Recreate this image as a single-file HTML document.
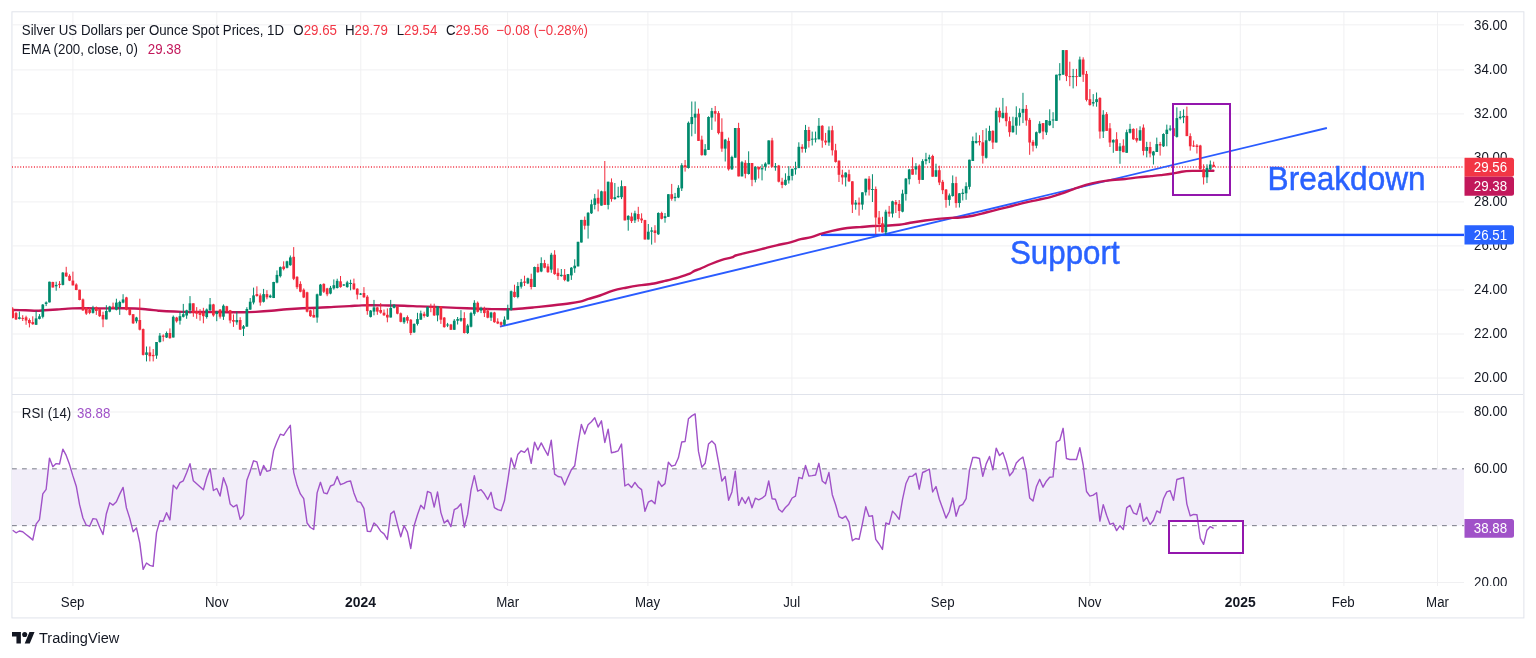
<!DOCTYPE html><html><head><meta charset="utf-8"><title>Silver chart</title><style>
html,body{margin:0;padding:0;background:#fff;}body{width:1536px;height:658px;overflow:hidden;position:relative;}
svg{position:absolute;left:0;top:0;will-change:transform;}
text{font-family:'Liberation Sans', sans-serif;}
</style></head><body>
<svg width="1536" height="658" viewBox="0 0 1536 658">
<defs>
<clipPath id="cm"><rect x="12" y="12" width="1452" height="382"/></clipPath>
<clipPath id="cr"><rect x="12" y="395" width="1452" height="191"/></clipPath>
<clipPath id="c20"><rect x="1464" y="395" width="59" height="191"/></clipPath>
</defs>
<rect x="11.94" y="11.79" width="1511.94" height="606.13" fill="none" stroke="#e0e3eb" stroke-width="1"/>
<rect x="72.40" y="12" width="1" height="574" fill="#f0f0f2"/>
<rect x="216.29" y="12" width="1" height="574" fill="#f0f0f2"/>
<rect x="360.29" y="12" width="1" height="574" fill="#f0f0f2"/>
<rect x="507.07" y="12" width="1" height="574" fill="#f0f0f2"/>
<rect x="647.38" y="12" width="1" height="574" fill="#f0f0f2"/>
<rect x="791.38" y="12" width="1" height="574" fill="#f0f0f2"/>
<rect x="941.62" y="12" width="1" height="574" fill="#f0f0f2"/>
<rect x="1089.38" y="12" width="1" height="574" fill="#f0f0f2"/>
<rect x="1239.77" y="12" width="1" height="574" fill="#f0f0f2"/>
<rect x="1343.38" y="12" width="1" height="574" fill="#f0f0f2"/>
<rect x="1436.98" y="12" width="1" height="574" fill="#f0f0f2"/>
<rect x="12" y="24.35" width="1452" height="1" fill="#f0f0f2"/>
<rect x="12" y="69.38" width="1452" height="1" fill="#f0f0f2"/>
<rect x="12" y="113.38" width="1452" height="1" fill="#f0f0f2"/>
<rect x="12" y="157.40" width="1452" height="1" fill="#f0f0f2"/>
<rect x="12" y="201.38" width="1452" height="1" fill="#f0f0f2"/>
<rect x="12" y="245.40" width="1452" height="1" fill="#f0f0f2"/>
<rect x="12" y="289.47" width="1452" height="1" fill="#f0f0f2"/>
<rect x="12" y="333.50" width="1452" height="1" fill="#f0f0f2"/>
<rect x="12" y="377.53" width="1452" height="1" fill="#f0f0f2"/>
<rect x="12" y="411.50" width="1452" height="1" fill="#f0f0f2"/>
<rect x="12" y="581.99" width="1452" height="1" fill="#f0f0f2"/>
<rect x="12" y="394" width="1511" height="1" fill="#e0e3eb"/>
<rect x="12" y="468.83" width="1452" height="56.83" fill="#f2eef9"/>
<rect x="1169" y="521" width="74" height="32" fill="#ffffff"/>
<line x1="12" y1="468.83" x2="1464" y2="468.83" stroke="#787b86" stroke-width="1" stroke-dasharray="4.8 5.2"/>
<line x1="12" y1="525.66" x2="1464" y2="525.66" stroke="#787b86" stroke-width="1" stroke-dasharray="4.8 5.2"/>
<polyline clip-path="url(#cr)" points="12.68,530.30 16.03,532.80 19.38,531.00 22.72,531.80 26.07,534.50 29.41,537.10 32.76,540.00 36.10,524.20 39.45,519.70 42.79,493.80 46.14,489.30 49.48,458.10 52.83,466.70 56.17,463.60 59.52,464.00 62.86,449.20 66.21,455.40 69.55,464.60 72.90,475.90 76.25,486.20 79.59,504.70 82.94,518.00 86.28,525.20 89.63,526.20 92.97,518.60 96.32,519.10 99.66,527.30 103.01,534.50 106.35,513.70 109.70,502.70 113.04,505.10 116.39,501.70 119.73,494.10 123.08,487.40 126.42,507.90 129.77,518.40 133.12,531.70 136.46,527.90 139.81,543.10 143.15,569.30 146.50,563.00 149.84,565.30 153.19,566.30 156.53,532.60 159.88,520.70 163.22,521.20 166.57,512.70 169.91,519.90 173.26,485.10 176.60,488.90 179.95,482.70 183.29,480.80 186.64,472.80 189.99,463.70 193.33,480.80 196.68,483.80 200.02,486.80 203.37,489.80 206.71,477.80 210.06,468.70 213.40,490.50 216.75,488.50 220.09,496.00 223.44,477.80 226.78,486.50 230.13,503.90 233.47,506.90 236.82,504.90 240.16,519.30 243.51,514.80 246.86,480.20 250.20,471.30 253.55,460.80 256.89,461.80 260.24,475.30 263.58,465.40 266.93,471.30 270.27,470.30 273.62,450.60 276.96,441.70 280.31,434.20 283.65,435.30 287.00,430.20 290.34,425.30 293.69,472.30 297.04,485.30 300.38,493.90 303.73,498.70 307.07,523.00 310.42,527.50 313.76,529.40 317.11,492.90 320.45,482.30 323.80,492.90 327.14,493.80 330.49,486.00 333.83,484.70 337.18,476.50 340.52,484.70 343.87,483.40 347.21,481.60 350.56,481.00 353.91,492.90 357.25,501.60 360.60,502.40 363.94,508.40 367.29,531.20 370.63,531.60 373.98,523.00 377.32,526.10 380.67,531.20 384.01,533.90 387.36,539.40 390.70,513.90 394.05,511.10 397.39,524.30 400.74,536.70 404.08,525.70 407.43,532.10 410.78,548.50 414.12,525.70 417.47,514.80 420.81,505.30 424.16,508.90 427.50,491.40 430.85,492.90 434.19,507.10 437.54,492.00 440.88,512.60 444.23,523.00 447.57,519.90 450.92,526.60 454.26,509.70 457.61,507.80 460.95,503.80 464.30,527.20 467.65,514.40 470.99,490.20 474.34,475.60 477.68,491.10 481.03,489.60 484.37,493.80 487.72,499.50 491.06,492.30 494.41,507.70 497.75,509.70 501.10,510.70 504.44,500.80 507.79,480.10 511.13,457.90 514.48,467.80 517.82,454.40 521.17,450.80 524.52,452.40 527.86,448.10 531.21,463.30 534.55,442.10 537.90,450.00 541.24,442.90 544.59,449.40 547.93,455.40 551.28,440.20 554.62,474.10 557.97,476.50 561.31,477.10 564.66,485.00 568.00,477.10 571.35,469.80 574.70,465.80 578.04,443.50 581.39,424.40 584.73,434.00 588.08,424.80 591.42,421.80 594.77,417.80 598.11,427.10 601.46,420.80 604.80,442.50 608.15,429.10 611.49,452.80 614.84,452.00 618.18,450.80 621.53,444.10 624.87,486.00 628.22,484.00 631.57,487.60 634.91,482.40 638.26,487.00 641.60,489.60 644.95,511.30 648.29,502.20 651.64,500.40 654.98,503.80 658.33,481.10 661.67,486.40 665.02,483.60 668.36,462.30 671.71,466.20 675.05,465.20 678.40,457.80 681.74,442.00 685.09,441.50 688.44,418.80 691.78,415.90 695.13,413.90 698.47,451.40 701.82,467.20 705.16,463.30 708.51,444.10 711.85,441.00 715.20,444.50 718.54,462.30 721.89,481.10 725.23,476.50 728.58,500.20 731.92,491.90 735.27,471.20 738.61,505.40 741.96,497.50 745.31,503.40 748.65,496.90 752.00,507.70 755.34,498.20 758.69,499.80 762.03,498.20 765.38,495.50 768.72,481.00 772.07,498.70 775.41,499.30 778.76,509.30 782.10,512.00 785.45,507.50 788.79,504.20 792.14,498.00 795.48,496.20 798.83,477.40 802.18,478.70 805.52,465.50 808.87,476.10 812.21,475.60 815.56,475.00 818.90,463.30 822.25,481.00 825.59,483.80 828.94,472.50 832.28,494.70 835.63,504.70 838.97,516.60 842.32,518.40 845.66,516.20 849.01,522.10 852.35,540.70 855.70,538.50 859.05,539.40 862.39,523.90 865.74,506.80 869.08,516.40 872.43,515.70 875.77,539.40 879.12,544.00 882.46,549.40 885.81,523.00 889.15,524.30 892.50,511.10 895.84,514.80 899.19,519.30 902.53,499.30 905.88,483.80 909.22,476.50 912.57,476.10 915.92,473.20 919.26,489.20 922.61,472.50 925.95,471.00 929.30,469.20 932.64,492.00 935.99,486.50 939.33,499.30 942.68,508.40 946.02,518.10 949.37,511.50 952.71,498.00 956.06,516.20 959.40,506.20 962.75,504.30 966.10,498.60 969.44,470.40 972.79,457.50 976.13,457.50 979.48,458.50 982.82,476.30 986.17,463.90 989.51,456.50 992.86,469.80 996.20,448.10 999.55,455.60 1002.89,452.60 1006.24,462.50 1009.58,475.70 1012.93,471.80 1016.27,463.10 1019.62,459.50 1022.97,457.10 1026.31,471.80 1029.66,498.00 1033.00,501.00 1036.35,486.80 1039.69,479.30 1043.04,487.20 1046.38,481.20 1049.73,477.30 1053.07,476.90 1056.42,442.10 1059.76,440.20 1063.11,428.30 1066.45,458.50 1069.80,459.50 1073.14,459.50 1076.49,459.50 1079.84,447.70 1083.18,465.00 1086.53,491.50 1089.87,496.10 1093.22,495.10 1096.56,492.70 1099.91,521.10 1103.25,504.60 1106.60,515.20 1109.94,524.30 1113.29,523.10 1116.63,530.60 1119.98,525.70 1123.32,529.60 1126.67,507.90 1130.01,505.30 1133.36,512.80 1136.71,514.40 1140.05,503.40 1143.40,521.30 1146.74,517.30 1150.09,524.50 1153.43,520.20 1156.78,510.90 1160.12,512.90 1163.47,498.80 1166.81,491.90 1170.16,490.70 1173.50,500.30 1176.85,479.50 1180.19,478.50 1183.54,477.50 1186.88,504.10 1190.23,515.90 1193.58,514.40 1196.92,514.70 1200.27,538.30 1203.61,544.30 1206.96,530.20 1210.30,526.60 1213.65,528.40" fill="none" stroke="#a052c8" stroke-width="1.4" stroke-linejoin="round"/>
<rect x="1169" y="521" width="74" height="32" fill="none" stroke="#9316ad" stroke-width="2"/>
<g clip-path="url(#cm)">
<line x1="12" y1="167" x2="1464" y2="167" stroke="#f22a3c" stroke-width="1.5" stroke-dasharray="1 1.74"/>
<line x1="499.9" y1="326.7" x2="1326.9" y2="128.0" stroke="#2a5cff" stroke-width="1.8"/>
<rect x="821" y="233.7" width="643" height="2.4" fill="#1c50ff"/>
<path d="M12.00,310.00 C14.27,310.05 21.50,310.18 25.60,310.30 C29.70,310.42 33.47,310.70 36.60,310.70 C39.73,310.70 41.02,310.50 44.40,310.30 C47.78,310.10 52.22,309.82 56.90,309.50 C61.58,309.18 67.30,308.60 72.50,308.40 C77.70,308.20 82.88,308.30 88.10,308.30 C93.32,308.30 98.58,308.40 103.80,308.40 C109.02,308.40 114.20,308.28 119.40,308.30 C124.60,308.32 130.32,308.30 135.00,308.50 C139.68,308.70 143.60,309.13 147.50,309.50 C151.40,309.87 155.27,310.40 158.40,310.70 C161.53,311.00 162.38,311.10 166.30,311.30 C170.22,311.50 176.70,311.78 181.90,311.90 C187.10,312.02 192.30,311.98 197.50,312.00 C202.70,312.02 207.88,311.97 213.10,312.00 C218.32,312.03 223.65,312.15 228.80,312.20 C233.95,312.25 239.53,312.35 244.00,312.30 C248.47,312.25 251.05,312.15 255.60,311.90 C260.15,311.65 266.08,311.25 271.30,310.80 C276.52,310.35 281.70,309.63 286.90,309.20 C292.10,308.77 297.30,308.43 302.50,308.20 C307.70,307.97 312.88,308.02 318.10,307.80 C323.32,307.58 328.58,307.18 333.80,306.90 C339.02,306.62 344.72,306.35 349.40,306.10 C354.08,305.85 358.00,305.53 361.90,305.40 C365.80,305.27 368.38,305.28 372.80,305.30 C377.22,305.32 383.18,305.43 388.40,305.50 C393.62,305.57 398.88,305.55 404.10,305.70 C409.32,305.85 414.50,306.20 419.70,306.40 C424.90,306.60 430.10,306.70 435.30,306.90 C440.50,307.10 445.68,307.37 450.90,307.60 C456.12,307.83 461.75,308.10 466.60,308.30 C471.45,308.50 475.77,308.67 480.00,308.80 C484.23,308.93 487.90,309.02 492.00,309.10 C496.10,309.18 500.67,309.32 504.60,309.30 C508.53,309.28 510.73,309.32 515.60,309.00 C520.47,308.68 527.73,307.98 533.80,307.40 C539.87,306.82 545.92,306.18 552.00,305.50 C558.08,304.82 565.63,303.95 570.30,303.30 C574.97,302.65 576.97,302.33 580.00,301.60 C583.03,300.87 585.17,299.92 588.50,298.90 C591.83,297.88 595.92,296.88 600.00,295.50 C604.08,294.12 608.67,291.90 613.00,290.60 C617.33,289.30 621.65,288.57 626.00,287.70 C630.35,286.83 634.75,286.05 639.10,285.40 C643.45,284.75 647.77,284.55 652.10,283.80 C656.43,283.05 660.77,281.93 665.10,280.90 C669.43,279.87 673.98,278.80 678.10,277.60 C682.22,276.40 687.08,274.83 689.80,273.70 C692.52,272.57 692.70,271.60 694.40,270.80 C696.10,270.00 697.25,270.03 700.00,268.90 C702.75,267.77 707.25,265.50 710.90,264.00 C714.55,262.50 718.43,261.00 721.90,259.90 C725.37,258.80 729.42,258.13 731.70,257.40 C733.98,256.67 733.58,256.18 735.60,255.50 C737.62,254.82 740.62,254.07 743.80,253.30 C746.98,252.53 751.07,251.77 754.70,250.90 C758.33,250.03 761.95,249.03 765.60,248.10 C769.25,247.17 772.47,246.27 776.60,245.30 C780.73,244.33 786.37,243.32 790.40,242.30 C794.43,241.28 797.32,240.07 800.80,239.20 C804.28,238.33 807.82,238.02 811.30,237.10 C814.78,236.18 818.23,234.73 821.70,233.70 C825.17,232.67 828.63,231.72 832.10,230.90 C835.57,230.08 839.03,229.37 842.50,228.80 C845.97,228.23 849.98,227.78 852.90,227.50 C855.82,227.22 856.65,227.35 860.00,227.10 C863.35,226.85 868.67,226.23 873.00,226.00 C877.33,225.77 881.65,225.92 886.00,225.70 C890.35,225.48 895.83,225.02 899.10,224.70 C902.37,224.38 903.43,224.17 905.60,223.80 C907.77,223.43 908.85,223.05 912.10,222.50 C915.35,221.95 920.77,221.10 925.10,220.50 C929.43,219.90 933.77,219.33 938.10,218.90 C942.43,218.47 947.45,218.12 951.10,217.90 C954.75,217.68 956.35,217.97 960.00,217.60 C963.65,217.23 968.67,216.55 973.00,215.70 C977.33,214.85 981.65,213.58 986.00,212.50 C990.35,211.42 994.75,210.28 999.10,209.20 C1003.45,208.12 1007.77,207.08 1012.10,206.00 C1016.43,204.92 1020.77,203.73 1025.10,202.70 C1029.43,201.67 1033.77,200.78 1038.10,199.80 C1042.43,198.82 1047.45,197.77 1051.10,196.80 C1054.75,195.83 1056.35,195.23 1060.00,194.00 C1063.65,192.77 1068.67,190.92 1073.00,189.40 C1077.33,187.88 1081.65,186.15 1086.00,184.90 C1090.35,183.65 1094.75,182.72 1099.10,181.90 C1103.45,181.08 1107.77,180.48 1112.10,180.00 C1116.43,179.52 1120.77,179.43 1125.10,179.00 C1129.43,178.57 1133.77,177.88 1138.10,177.40 C1142.43,176.92 1147.32,176.48 1151.10,176.10 C1154.88,175.72 1157.43,175.48 1160.80,175.10 C1164.17,174.72 1167.82,174.37 1171.30,173.80 C1174.78,173.23 1178.23,172.18 1181.70,171.70 C1185.17,171.22 1188.63,171.03 1192.10,170.90 C1195.57,170.77 1198.95,170.93 1202.50,170.90 C1206.05,170.87 1211.58,170.73 1213.40,170.70" fill="none" stroke="#c11457" stroke-width="2.4" stroke-linejoin="round" stroke-linecap="round"/>
<rect x="12.18" y="307.20" width="1" height="11.20" fill="#f22a3c"/>
<rect x="11.33" y="308.80" width="2.7" height="9.10" fill="#f22a3c"/>
<rect x="15.53" y="312.00" width="1" height="8.00" fill="#f22a3c"/>
<rect x="14.68" y="313.10" width="2.7" height="6.30" fill="#f22a3c"/>
<rect x="18.88" y="311.50" width="1" height="7.90" fill="#008a6d"/>
<rect x="18.03" y="317.30" width="2.7" height="1.60" fill="#008a6d"/>
<rect x="22.22" y="315.20" width="1" height="5.80" fill="#f22a3c"/>
<rect x="21.37" y="317.90" width="2.7" height="1.00" fill="#f22a3c"/>
<rect x="25.57" y="315.70" width="1" height="9.10" fill="#f22a3c"/>
<rect x="24.72" y="317.30" width="2.7" height="3.20" fill="#f22a3c"/>
<rect x="28.91" y="318.40" width="1" height="9.00" fill="#f22a3c"/>
<rect x="28.06" y="320.00" width="2.7" height="3.20" fill="#f22a3c"/>
<rect x="32.26" y="316.30" width="1" height="8.50" fill="#f22a3c"/>
<rect x="31.41" y="322.10" width="2.7" height="2.10" fill="#f22a3c"/>
<rect x="35.60" y="310.90" width="1" height="13.90" fill="#008a6d"/>
<rect x="34.75" y="318.40" width="2.7" height="6.40" fill="#008a6d"/>
<rect x="38.95" y="314.10" width="1" height="5.30" fill="#008a6d"/>
<rect x="38.10" y="316.30" width="2.7" height="2.60" fill="#008a6d"/>
<rect x="42.29" y="304.00" width="1" height="14.40" fill="#008a6d"/>
<rect x="41.44" y="304.60" width="2.7" height="12.20" fill="#008a6d"/>
<rect x="45.64" y="301.40" width="1" height="4.70" fill="#008a6d"/>
<rect x="44.79" y="302.40" width="2.7" height="1.60" fill="#008a6d"/>
<rect x="48.98" y="281.70" width="1" height="20.70" fill="#008a6d"/>
<rect x="48.13" y="281.70" width="2.7" height="20.70" fill="#008a6d"/>
<rect x="52.33" y="281.70" width="1" height="5.80" fill="#f22a3c"/>
<rect x="51.48" y="282.00" width="2.7" height="5.50" fill="#f22a3c"/>
<rect x="55.67" y="281.70" width="1" height="9.00" fill="#008a6d"/>
<rect x="54.82" y="284.90" width="2.7" height="1.40" fill="#008a6d"/>
<rect x="59.02" y="281.10" width="1" height="7.00" fill="#f22a3c"/>
<rect x="58.17" y="283.80" width="2.7" height="1.10" fill="#f22a3c"/>
<rect x="62.36" y="272.00" width="1" height="13.40" fill="#008a6d"/>
<rect x="61.51" y="272.60" width="2.7" height="12.30" fill="#008a6d"/>
<rect x="65.71" y="266.80" width="1" height="10.10" fill="#f22a3c"/>
<rect x="64.86" y="272.60" width="2.7" height="3.80" fill="#f22a3c"/>
<rect x="69.05" y="274.20" width="1" height="6.90" fill="#f22a3c"/>
<rect x="68.20" y="275.80" width="2.7" height="4.80" fill="#f22a3c"/>
<rect x="72.40" y="271.60" width="1" height="13.80" fill="#f22a3c"/>
<rect x="71.55" y="280.60" width="2.7" height="4.80" fill="#f22a3c"/>
<rect x="75.75" y="283.30" width="1" height="6.90" fill="#f22a3c"/>
<rect x="74.90" y="284.50" width="2.7" height="5.50" fill="#f22a3c"/>
<rect x="79.09" y="289.70" width="1" height="10.60" fill="#f22a3c"/>
<rect x="78.24" y="289.70" width="2.7" height="10.30" fill="#f22a3c"/>
<rect x="82.44" y="298.50" width="1" height="12.40" fill="#f22a3c"/>
<rect x="81.59" y="299.40" width="2.7" height="11.00" fill="#f22a3c"/>
<rect x="85.78" y="307.00" width="1" height="7.90" fill="#f22a3c"/>
<rect x="84.93" y="307.80" width="2.7" height="5.80" fill="#f22a3c"/>
<rect x="89.13" y="307.80" width="1" height="6.40" fill="#f22a3c"/>
<rect x="88.28" y="309.70" width="2.7" height="3.20" fill="#f22a3c"/>
<rect x="92.47" y="305.80" width="1" height="7.80" fill="#008a6d"/>
<rect x="91.62" y="307.80" width="2.7" height="5.10" fill="#008a6d"/>
<rect x="95.82" y="306.50" width="1" height="8.40" fill="#f22a3c"/>
<rect x="94.97" y="307.10" width="2.7" height="3.90" fill="#f22a3c"/>
<rect x="99.16" y="308.40" width="1" height="8.50" fill="#f22a3c"/>
<rect x="98.31" y="309.10" width="2.7" height="7.10" fill="#f22a3c"/>
<rect x="102.51" y="311.70" width="1" height="15.50" fill="#f22a3c"/>
<rect x="101.66" y="314.90" width="2.7" height="4.50" fill="#f22a3c"/>
<rect x="105.85" y="305.20" width="1" height="14.20" fill="#008a6d"/>
<rect x="105.00" y="311.00" width="2.7" height="8.40" fill="#008a6d"/>
<rect x="109.20" y="305.80" width="1" height="6.50" fill="#008a6d"/>
<rect x="108.35" y="306.50" width="2.7" height="5.20" fill="#008a6d"/>
<rect x="112.54" y="302.60" width="1" height="5.80" fill="#f22a3c"/>
<rect x="111.69" y="306.50" width="2.7" height="1.30" fill="#f22a3c"/>
<rect x="115.89" y="298.70" width="1" height="11.70" fill="#008a6d"/>
<rect x="115.04" y="302.60" width="2.7" height="7.10" fill="#008a6d"/>
<rect x="119.23" y="300.70" width="1" height="14.20" fill="#008a6d"/>
<rect x="118.38" y="302.00" width="2.7" height="5.10" fill="#008a6d"/>
<rect x="122.58" y="294.20" width="1" height="9.10" fill="#008a6d"/>
<rect x="121.73" y="299.40" width="2.7" height="3.20" fill="#008a6d"/>
<rect x="125.92" y="296.80" width="1" height="13.60" fill="#f22a3c"/>
<rect x="125.07" y="297.40" width="2.7" height="12.30" fill="#f22a3c"/>
<rect x="129.27" y="308.40" width="1" height="7.10" fill="#f22a3c"/>
<rect x="128.42" y="309.10" width="2.7" height="5.80" fill="#f22a3c"/>
<rect x="132.62" y="314.20" width="1" height="9.80" fill="#f22a3c"/>
<rect x="131.77" y="314.20" width="2.7" height="9.10" fill="#f22a3c"/>
<rect x="135.96" y="316.80" width="1" height="6.50" fill="#008a6d"/>
<rect x="135.11" y="317.50" width="2.7" height="3.80" fill="#008a6d"/>
<rect x="139.31" y="298.70" width="1" height="31.70" fill="#f22a3c"/>
<rect x="138.46" y="320.00" width="2.7" height="9.70" fill="#f22a3c"/>
<rect x="142.65" y="328.50" width="1" height="27.00" fill="#f22a3c"/>
<rect x="141.80" y="329.10" width="2.7" height="25.80" fill="#f22a3c"/>
<rect x="146.00" y="346.50" width="1" height="14.90" fill="#008a6d"/>
<rect x="145.15" y="352.40" width="2.7" height="2.50" fill="#008a6d"/>
<rect x="149.34" y="346.50" width="1" height="14.90" fill="#f22a3c"/>
<rect x="148.49" y="352.40" width="2.7" height="3.80" fill="#f22a3c"/>
<rect x="152.69" y="349.00" width="1" height="12.40" fill="#f22a3c"/>
<rect x="151.84" y="354.90" width="2.7" height="1.30" fill="#f22a3c"/>
<rect x="156.03" y="342.00" width="1" height="16.80" fill="#008a6d"/>
<rect x="155.18" y="342.00" width="2.7" height="13.60" fill="#008a6d"/>
<rect x="159.38" y="333.00" width="1" height="9.70" fill="#008a6d"/>
<rect x="158.53" y="335.60" width="2.7" height="6.40" fill="#008a6d"/>
<rect x="162.72" y="334.30" width="1" height="7.10" fill="#f22a3c"/>
<rect x="161.87" y="335.60" width="2.7" height="1.20" fill="#f22a3c"/>
<rect x="166.07" y="331.50" width="1" height="6.50" fill="#008a6d"/>
<rect x="165.22" y="333.00" width="2.7" height="4.50" fill="#008a6d"/>
<rect x="169.41" y="328.40" width="1" height="10.40" fill="#f22a3c"/>
<rect x="168.56" y="333.00" width="2.7" height="5.10" fill="#f22a3c"/>
<rect x="172.76" y="315.50" width="1" height="22.00" fill="#008a6d"/>
<rect x="171.91" y="316.80" width="2.7" height="20.70" fill="#008a6d"/>
<rect x="176.10" y="316.80" width="1" height="5.80" fill="#f22a3c"/>
<rect x="175.25" y="317.50" width="2.7" height="3.80" fill="#f22a3c"/>
<rect x="179.45" y="311.70" width="1" height="12.90" fill="#008a6d"/>
<rect x="178.60" y="316.20" width="2.7" height="4.50" fill="#008a6d"/>
<rect x="182.79" y="303.90" width="1" height="13.60" fill="#008a6d"/>
<rect x="181.94" y="314.20" width="2.7" height="2.60" fill="#008a6d"/>
<rect x="186.14" y="309.70" width="1" height="9.10" fill="#008a6d"/>
<rect x="185.29" y="310.40" width="2.7" height="5.10" fill="#008a6d"/>
<rect x="189.49" y="296.10" width="1" height="17.50" fill="#008a6d"/>
<rect x="188.64" y="303.30" width="2.7" height="7.10" fill="#008a6d"/>
<rect x="192.83" y="303.30" width="1" height="13.50" fill="#f22a3c"/>
<rect x="191.98" y="303.30" width="2.7" height="9.60" fill="#f22a3c"/>
<rect x="196.18" y="307.10" width="1" height="11.70" fill="#f22a3c"/>
<rect x="195.33" y="311.00" width="2.7" height="2.60" fill="#f22a3c"/>
<rect x="199.52" y="309.10" width="1" height="11.60" fill="#f22a3c"/>
<rect x="198.67" y="311.70" width="2.7" height="3.20" fill="#f22a3c"/>
<rect x="202.87" y="307.80" width="1" height="15.50" fill="#f22a3c"/>
<rect x="202.02" y="313.00" width="2.7" height="3.20" fill="#f22a3c"/>
<rect x="206.21" y="308.50" width="1" height="10.10" fill="#008a6d"/>
<rect x="205.36" y="309.50" width="2.7" height="7.50" fill="#008a6d"/>
<rect x="209.56" y="298.00" width="1" height="12.90" fill="#008a6d"/>
<rect x="208.71" y="304.40" width="2.7" height="5.80" fill="#008a6d"/>
<rect x="212.90" y="303.80" width="1" height="12.90" fill="#f22a3c"/>
<rect x="212.05" y="304.40" width="2.7" height="11.00" fill="#f22a3c"/>
<rect x="216.25" y="310.90" width="1" height="10.30" fill="#008a6d"/>
<rect x="215.40" y="311.50" width="2.7" height="2.60" fill="#008a6d"/>
<rect x="219.59" y="309.00" width="1" height="9.60" fill="#f22a3c"/>
<rect x="218.74" y="309.60" width="2.7" height="7.10" fill="#f22a3c"/>
<rect x="222.94" y="304.40" width="1" height="15.50" fill="#008a6d"/>
<rect x="222.09" y="305.70" width="2.7" height="11.00" fill="#008a6d"/>
<rect x="226.28" y="305.80" width="1" height="6.10" fill="#f22a3c"/>
<rect x="225.43" y="306.20" width="2.7" height="5.20" fill="#f22a3c"/>
<rect x="229.63" y="309.90" width="1" height="13.40" fill="#f22a3c"/>
<rect x="228.78" y="310.20" width="2.7" height="10.30" fill="#f22a3c"/>
<rect x="232.97" y="314.40" width="1" height="12.50" fill="#f22a3c"/>
<rect x="232.12" y="320.00" width="2.7" height="1.70" fill="#f22a3c"/>
<rect x="236.32" y="311.40" width="1" height="13.40" fill="#008a6d"/>
<rect x="235.47" y="320.00" width="2.7" height="2.30" fill="#008a6d"/>
<rect x="239.66" y="317.20" width="1" height="12.70" fill="#f22a3c"/>
<rect x="238.81" y="320.00" width="2.7" height="9.60" fill="#f22a3c"/>
<rect x="243.01" y="325.00" width="1" height="11.00" fill="#008a6d"/>
<rect x="242.16" y="326.30" width="2.7" height="2.40" fill="#008a6d"/>
<rect x="246.36" y="307.20" width="1" height="19.60" fill="#008a6d"/>
<rect x="245.51" y="309.00" width="2.7" height="17.60" fill="#008a6d"/>
<rect x="249.70" y="298.00" width="1" height="11.80" fill="#008a6d"/>
<rect x="248.85" y="301.70" width="2.7" height="7.90" fill="#008a6d"/>
<rect x="253.05" y="287.60" width="1" height="16.80" fill="#008a6d"/>
<rect x="252.20" y="295.40" width="2.7" height="7.10" fill="#008a6d"/>
<rect x="256.39" y="286.30" width="1" height="10.40" fill="#f22a3c"/>
<rect x="255.54" y="294.10" width="2.7" height="1.90" fill="#f22a3c"/>
<rect x="259.74" y="293.40" width="1" height="12.30" fill="#f22a3c"/>
<rect x="258.89" y="295.40" width="2.7" height="7.10" fill="#f22a3c"/>
<rect x="263.08" y="288.90" width="1" height="13.60" fill="#008a6d"/>
<rect x="262.23" y="294.10" width="2.7" height="7.70" fill="#008a6d"/>
<rect x="266.43" y="290.20" width="1" height="9.10" fill="#f22a3c"/>
<rect x="265.58" y="294.10" width="2.7" height="3.20" fill="#f22a3c"/>
<rect x="269.77" y="294.50" width="1" height="3.50" fill="#008a6d"/>
<rect x="268.92" y="295.60" width="2.7" height="1.70" fill="#008a6d"/>
<rect x="273.12" y="281.80" width="1" height="16.30" fill="#008a6d"/>
<rect x="272.27" y="282.00" width="2.7" height="16.00" fill="#008a6d"/>
<rect x="276.46" y="270.40" width="1" height="12.90" fill="#008a6d"/>
<rect x="275.61" y="274.90" width="2.7" height="7.70" fill="#008a6d"/>
<rect x="279.81" y="266.50" width="1" height="11.00" fill="#008a6d"/>
<rect x="278.96" y="267.10" width="2.7" height="9.10" fill="#008a6d"/>
<rect x="283.15" y="261.30" width="1" height="9.10" fill="#f22a3c"/>
<rect x="282.30" y="266.50" width="2.7" height="2.60" fill="#f22a3c"/>
<rect x="286.50" y="260.70" width="1" height="7.70" fill="#008a6d"/>
<rect x="285.65" y="261.30" width="2.7" height="6.50" fill="#008a6d"/>
<rect x="289.84" y="255.50" width="1" height="10.30" fill="#008a6d"/>
<rect x="288.99" y="257.40" width="2.7" height="7.80" fill="#008a6d"/>
<rect x="293.19" y="247.10" width="1" height="33.00" fill="#f22a3c"/>
<rect x="292.34" y="256.80" width="2.7" height="22.00" fill="#f22a3c"/>
<rect x="296.54" y="276.20" width="1" height="12.90" fill="#f22a3c"/>
<rect x="295.69" y="276.80" width="2.7" height="10.40" fill="#f22a3c"/>
<rect x="299.88" y="281.30" width="1" height="11.00" fill="#f22a3c"/>
<rect x="299.03" y="283.90" width="2.7" height="7.80" fill="#f22a3c"/>
<rect x="303.23" y="288.40" width="1" height="9.70" fill="#f22a3c"/>
<rect x="302.38" y="289.70" width="2.7" height="7.80" fill="#f22a3c"/>
<rect x="306.57" y="291.70" width="1" height="20.70" fill="#f22a3c"/>
<rect x="305.72" y="292.30" width="2.7" height="19.40" fill="#f22a3c"/>
<rect x="309.92" y="309.80" width="1" height="7.10" fill="#f22a3c"/>
<rect x="309.07" y="310.40" width="2.7" height="5.80" fill="#f22a3c"/>
<rect x="313.26" y="308.50" width="1" height="9.00" fill="#f22a3c"/>
<rect x="312.41" y="314.90" width="2.7" height="2.60" fill="#f22a3c"/>
<rect x="316.61" y="293.60" width="1" height="29.10" fill="#008a6d"/>
<rect x="315.76" y="294.30" width="2.7" height="23.20" fill="#008a6d"/>
<rect x="319.95" y="283.90" width="1" height="11.70" fill="#008a6d"/>
<rect x="319.10" y="284.60" width="2.7" height="11.00" fill="#008a6d"/>
<rect x="323.30" y="283.30" width="1" height="9.70" fill="#f22a3c"/>
<rect x="322.45" y="283.90" width="2.7" height="7.80" fill="#f22a3c"/>
<rect x="326.64" y="287.80" width="1" height="8.40" fill="#f22a3c"/>
<rect x="325.79" y="288.40" width="2.7" height="5.90" fill="#f22a3c"/>
<rect x="329.99" y="285.90" width="1" height="8.40" fill="#008a6d"/>
<rect x="329.14" y="287.80" width="2.7" height="5.80" fill="#008a6d"/>
<rect x="333.33" y="279.40" width="1" height="10.30" fill="#008a6d"/>
<rect x="332.48" y="285.20" width="2.7" height="3.20" fill="#008a6d"/>
<rect x="336.68" y="278.70" width="1" height="9.80" fill="#008a6d"/>
<rect x="335.83" y="280.80" width="2.7" height="7.20" fill="#008a6d"/>
<rect x="340.02" y="276.00" width="1" height="11.70" fill="#f22a3c"/>
<rect x="339.17" y="281.30" width="2.7" height="5.80" fill="#f22a3c"/>
<rect x="343.37" y="284.00" width="1" height="2.00" fill="#008a6d"/>
<rect x="342.52" y="284.50" width="2.7" height="1.00" fill="#008a6d"/>
<rect x="346.71" y="280.80" width="1" height="6.90" fill="#008a6d"/>
<rect x="345.86" y="282.40" width="2.7" height="4.70" fill="#008a6d"/>
<rect x="350.06" y="279.70" width="1" height="10.60" fill="#008a6d"/>
<rect x="349.21" y="282.90" width="2.7" height="1.10" fill="#008a6d"/>
<rect x="353.41" y="278.60" width="1" height="11.20" fill="#f22a3c"/>
<rect x="352.56" y="283.40" width="2.7" height="5.90" fill="#f22a3c"/>
<rect x="356.75" y="288.20" width="1" height="11.20" fill="#f22a3c"/>
<rect x="355.90" y="288.70" width="2.7" height="5.90" fill="#f22a3c"/>
<rect x="360.10" y="293.00" width="1" height="2.00" fill="#008a6d"/>
<rect x="359.25" y="293.60" width="2.7" height="1.00" fill="#008a6d"/>
<rect x="363.44" y="287.10" width="1" height="10.70" fill="#f22a3c"/>
<rect x="362.59" y="293.00" width="2.7" height="4.30" fill="#f22a3c"/>
<rect x="366.79" y="295.10" width="1" height="19.70" fill="#f22a3c"/>
<rect x="365.94" y="296.70" width="2.7" height="14.40" fill="#f22a3c"/>
<rect x="370.13" y="310.00" width="1" height="7.50" fill="#008a6d"/>
<rect x="369.28" y="310.60" width="2.7" height="6.30" fill="#008a6d"/>
<rect x="373.48" y="299.90" width="1" height="15.40" fill="#008a6d"/>
<rect x="372.63" y="307.40" width="2.7" height="4.20" fill="#008a6d"/>
<rect x="376.82" y="306.80" width="1" height="8.00" fill="#f22a3c"/>
<rect x="375.97" y="307.40" width="2.7" height="4.20" fill="#f22a3c"/>
<rect x="380.17" y="303.10" width="1" height="10.60" fill="#f22a3c"/>
<rect x="379.32" y="310.00" width="2.7" height="2.70" fill="#f22a3c"/>
<rect x="383.51" y="309.50" width="1" height="6.40" fill="#f22a3c"/>
<rect x="382.66" y="312.70" width="2.7" height="2.60" fill="#f22a3c"/>
<rect x="386.86" y="308.40" width="1" height="13.90" fill="#f22a3c"/>
<rect x="386.01" y="314.80" width="2.7" height="2.70" fill="#f22a3c"/>
<rect x="390.20" y="299.90" width="1" height="17.60" fill="#008a6d"/>
<rect x="389.35" y="307.90" width="2.7" height="9.60" fill="#008a6d"/>
<rect x="393.55" y="304.20" width="1" height="4.20" fill="#008a6d"/>
<rect x="392.70" y="304.70" width="2.7" height="3.20" fill="#008a6d"/>
<rect x="396.89" y="306.30" width="1" height="8.00" fill="#f22a3c"/>
<rect x="396.04" y="306.80" width="2.7" height="6.90" fill="#f22a3c"/>
<rect x="400.24" y="312.50" width="1" height="9.80" fill="#f22a3c"/>
<rect x="399.39" y="313.30" width="2.7" height="8.50" fill="#f22a3c"/>
<rect x="403.58" y="317.00" width="1" height="6.90" fill="#008a6d"/>
<rect x="402.73" y="317.60" width="2.7" height="4.70" fill="#008a6d"/>
<rect x="406.93" y="315.40" width="1" height="8.00" fill="#f22a3c"/>
<rect x="406.08" y="317.00" width="2.7" height="3.70" fill="#f22a3c"/>
<rect x="410.28" y="319.10" width="1" height="16.00" fill="#f22a3c"/>
<rect x="409.43" y="319.70" width="2.7" height="13.30" fill="#f22a3c"/>
<rect x="413.62" y="323.40" width="1" height="9.60" fill="#008a6d"/>
<rect x="412.77" y="323.90" width="2.7" height="8.50" fill="#008a6d"/>
<rect x="416.97" y="312.80" width="1" height="12.70" fill="#008a6d"/>
<rect x="416.12" y="319.10" width="2.7" height="4.80" fill="#008a6d"/>
<rect x="420.31" y="310.60" width="1" height="9.10" fill="#008a6d"/>
<rect x="419.46" y="313.30" width="2.7" height="6.40" fill="#008a6d"/>
<rect x="423.66" y="311.70" width="1" height="5.90" fill="#f22a3c"/>
<rect x="422.81" y="313.80" width="2.7" height="2.20" fill="#f22a3c"/>
<rect x="427.00" y="306.40" width="1" height="10.60" fill="#008a6d"/>
<rect x="426.15" y="306.90" width="2.7" height="9.60" fill="#008a6d"/>
<rect x="430.35" y="303.70" width="1" height="8.50" fill="#f22a3c"/>
<rect x="429.50" y="306.90" width="2.7" height="1.10" fill="#f22a3c"/>
<rect x="433.69" y="303.70" width="1" height="12.30" fill="#f22a3c"/>
<rect x="432.84" y="306.90" width="2.7" height="8.50" fill="#f22a3c"/>
<rect x="437.04" y="306.40" width="1" height="14.90" fill="#008a6d"/>
<rect x="436.19" y="306.40" width="2.7" height="9.00" fill="#008a6d"/>
<rect x="440.38" y="306.40" width="1" height="17.50" fill="#f22a3c"/>
<rect x="439.53" y="306.40" width="2.7" height="13.30" fill="#f22a3c"/>
<rect x="443.73" y="317.00" width="1" height="10.70" fill="#f22a3c"/>
<rect x="442.88" y="317.60" width="2.7" height="9.50" fill="#f22a3c"/>
<rect x="447.07" y="322.90" width="1" height="4.20" fill="#008a6d"/>
<rect x="446.22" y="324.50" width="2.7" height="1.00" fill="#008a6d"/>
<rect x="450.42" y="323.90" width="1" height="5.90" fill="#f22a3c"/>
<rect x="449.57" y="324.50" width="2.7" height="5.30" fill="#f22a3c"/>
<rect x="453.76" y="319.10" width="1" height="10.70" fill="#008a6d"/>
<rect x="452.91" y="320.70" width="2.7" height="9.10" fill="#008a6d"/>
<rect x="457.11" y="317.00" width="1" height="7.50" fill="#008a6d"/>
<rect x="456.26" y="319.10" width="2.7" height="1.60" fill="#008a6d"/>
<rect x="460.45" y="310.10" width="1" height="11.70" fill="#008a6d"/>
<rect x="459.60" y="318.10" width="2.7" height="2.60" fill="#008a6d"/>
<rect x="463.80" y="312.20" width="1" height="21.30" fill="#f22a3c"/>
<rect x="462.95" y="318.10" width="2.7" height="14.90" fill="#f22a3c"/>
<rect x="467.15" y="323.90" width="1" height="10.10" fill="#008a6d"/>
<rect x="466.30" y="325.50" width="2.7" height="7.50" fill="#008a6d"/>
<rect x="470.49" y="311.80" width="1" height="15.60" fill="#008a6d"/>
<rect x="469.64" y="313.10" width="2.7" height="13.60" fill="#008a6d"/>
<rect x="473.84" y="300.20" width="1" height="15.50" fill="#008a6d"/>
<rect x="472.99" y="302.80" width="2.7" height="11.00" fill="#008a6d"/>
<rect x="477.18" y="301.50" width="1" height="11.00" fill="#f22a3c"/>
<rect x="476.33" y="302.80" width="2.7" height="9.00" fill="#f22a3c"/>
<rect x="480.53" y="306.70" width="1" height="6.40" fill="#008a6d"/>
<rect x="479.68" y="308.00" width="2.7" height="2.60" fill="#008a6d"/>
<rect x="483.87" y="306.70" width="1" height="10.30" fill="#f22a3c"/>
<rect x="483.02" y="309.30" width="2.7" height="3.80" fill="#f22a3c"/>
<rect x="487.22" y="308.60" width="1" height="9.70" fill="#f22a3c"/>
<rect x="486.37" y="310.60" width="2.7" height="7.10" fill="#f22a3c"/>
<rect x="490.56" y="311.80" width="1" height="9.10" fill="#008a6d"/>
<rect x="489.71" y="312.50" width="2.7" height="5.20" fill="#008a6d"/>
<rect x="493.91" y="311.80" width="1" height="11.00" fill="#f22a3c"/>
<rect x="493.06" y="312.50" width="2.7" height="9.70" fill="#f22a3c"/>
<rect x="497.25" y="318.30" width="1" height="5.80" fill="#f22a3c"/>
<rect x="496.40" y="321.50" width="2.7" height="2.00" fill="#f22a3c"/>
<rect x="500.60" y="321.50" width="1" height="5.20" fill="#f22a3c"/>
<rect x="499.75" y="322.20" width="2.7" height="2.60" fill="#f22a3c"/>
<rect x="503.94" y="316.40" width="1" height="9.00" fill="#008a6d"/>
<rect x="503.09" y="319.60" width="2.7" height="5.20" fill="#008a6d"/>
<rect x="507.29" y="304.70" width="1" height="14.90" fill="#008a6d"/>
<rect x="506.44" y="309.30" width="2.7" height="10.30" fill="#008a6d"/>
<rect x="510.63" y="290.50" width="1" height="20.10" fill="#008a6d"/>
<rect x="509.78" y="291.20" width="2.7" height="18.70" fill="#008a6d"/>
<rect x="513.98" y="284.70" width="1" height="12.90" fill="#f22a3c"/>
<rect x="513.13" y="291.80" width="2.7" height="5.20" fill="#f22a3c"/>
<rect x="517.32" y="282.10" width="1" height="16.20" fill="#008a6d"/>
<rect x="516.47" y="286.00" width="2.7" height="11.00" fill="#008a6d"/>
<rect x="520.67" y="278.90" width="1" height="9.70" fill="#008a6d"/>
<rect x="519.82" y="282.10" width="2.7" height="4.60" fill="#008a6d"/>
<rect x="524.02" y="275.70" width="1" height="10.30" fill="#f22a3c"/>
<rect x="523.17" y="281.50" width="2.7" height="1.30" fill="#f22a3c"/>
<rect x="527.36" y="277.60" width="1" height="6.50" fill="#008a6d"/>
<rect x="526.51" y="278.30" width="2.7" height="5.10" fill="#008a6d"/>
<rect x="530.71" y="273.70" width="1" height="15.70" fill="#f22a3c"/>
<rect x="529.86" y="278.90" width="2.7" height="8.10" fill="#f22a3c"/>
<rect x="534.05" y="266.60" width="1" height="20.40" fill="#008a6d"/>
<rect x="533.20" y="267.00" width="2.7" height="20.00" fill="#008a6d"/>
<rect x="537.40" y="263.80" width="1" height="9.00" fill="#f22a3c"/>
<rect x="536.55" y="267.00" width="2.7" height="5.20" fill="#f22a3c"/>
<rect x="540.74" y="257.30" width="1" height="14.90" fill="#008a6d"/>
<rect x="539.89" y="263.10" width="2.7" height="8.40" fill="#008a6d"/>
<rect x="544.09" y="259.90" width="1" height="8.40" fill="#f22a3c"/>
<rect x="543.24" y="263.10" width="2.7" height="4.60" fill="#f22a3c"/>
<rect x="547.43" y="263.80" width="1" height="9.00" fill="#f22a3c"/>
<rect x="546.58" y="266.40" width="2.7" height="5.80" fill="#f22a3c"/>
<rect x="550.78" y="252.80" width="1" height="20.00" fill="#008a6d"/>
<rect x="549.93" y="254.70" width="2.7" height="14.90" fill="#008a6d"/>
<rect x="554.12" y="250.20" width="1" height="24.60" fill="#f22a3c"/>
<rect x="553.27" y="254.70" width="2.7" height="19.40" fill="#f22a3c"/>
<rect x="557.47" y="268.30" width="1" height="11.60" fill="#f22a3c"/>
<rect x="556.62" y="272.80" width="2.7" height="3.30" fill="#f22a3c"/>
<rect x="560.81" y="269.00" width="1" height="7.70" fill="#008a6d"/>
<rect x="559.96" y="274.80" width="2.7" height="1.30" fill="#008a6d"/>
<rect x="564.16" y="269.00" width="1" height="12.20" fill="#f22a3c"/>
<rect x="563.31" y="274.80" width="2.7" height="5.10" fill="#f22a3c"/>
<rect x="567.50" y="274.10" width="1" height="7.80" fill="#008a6d"/>
<rect x="566.65" y="274.10" width="2.7" height="7.10" fill="#008a6d"/>
<rect x="570.85" y="267.00" width="1" height="12.90" fill="#008a6d"/>
<rect x="570.00" y="267.70" width="2.7" height="7.70" fill="#008a6d"/>
<rect x="574.20" y="259.30" width="1" height="13.50" fill="#008a6d"/>
<rect x="573.35" y="265.70" width="2.7" height="2.60" fill="#008a6d"/>
<rect x="577.54" y="241.80" width="1" height="24.60" fill="#008a6d"/>
<rect x="576.69" y="241.80" width="2.7" height="24.60" fill="#008a6d"/>
<rect x="580.89" y="219.90" width="1" height="22.60" fill="#008a6d"/>
<rect x="580.04" y="219.90" width="2.7" height="22.60" fill="#008a6d"/>
<rect x="584.23" y="216.50" width="1" height="13.00" fill="#f22a3c"/>
<rect x="583.38" y="219.90" width="2.7" height="5.80" fill="#f22a3c"/>
<rect x="587.58" y="212.10" width="1" height="26.50" fill="#008a6d"/>
<rect x="586.73" y="212.80" width="2.7" height="12.90" fill="#008a6d"/>
<rect x="590.92" y="199.70" width="1" height="14.30" fill="#008a6d"/>
<rect x="590.07" y="204.30" width="2.7" height="9.00" fill="#008a6d"/>
<rect x="594.27" y="193.90" width="1" height="15.50" fill="#008a6d"/>
<rect x="593.42" y="198.40" width="2.7" height="6.50" fill="#008a6d"/>
<rect x="597.61" y="189.40" width="1" height="22.00" fill="#f22a3c"/>
<rect x="596.76" y="197.80" width="2.7" height="5.80" fill="#f22a3c"/>
<rect x="600.96" y="190.70" width="1" height="14.90" fill="#008a6d"/>
<rect x="600.11" y="191.30" width="2.7" height="14.30" fill="#008a6d"/>
<rect x="604.30" y="161.00" width="1" height="43.90" fill="#f22a3c"/>
<rect x="603.45" y="191.30" width="2.7" height="13.60" fill="#f22a3c"/>
<rect x="607.65" y="181.70" width="1" height="27.70" fill="#008a6d"/>
<rect x="606.80" y="181.70" width="2.7" height="23.20" fill="#008a6d"/>
<rect x="610.99" y="178.40" width="1" height="23.30" fill="#f22a3c"/>
<rect x="610.14" y="182.30" width="2.7" height="16.80" fill="#f22a3c"/>
<rect x="614.34" y="183.00" width="1" height="16.70" fill="#008a6d"/>
<rect x="613.49" y="197.20" width="2.7" height="1.90" fill="#008a6d"/>
<rect x="617.68" y="186.80" width="1" height="11.00" fill="#008a6d"/>
<rect x="616.83" y="195.90" width="2.7" height="1.30" fill="#008a6d"/>
<rect x="621.03" y="180.40" width="1" height="18.70" fill="#008a6d"/>
<rect x="620.18" y="186.20" width="2.7" height="11.00" fill="#008a6d"/>
<rect x="624.37" y="186.20" width="1" height="34.20" fill="#f22a3c"/>
<rect x="623.52" y="186.20" width="2.7" height="34.20" fill="#f22a3c"/>
<rect x="627.72" y="215.20" width="1" height="15.50" fill="#008a6d"/>
<rect x="626.87" y="215.90" width="2.7" height="3.90" fill="#008a6d"/>
<rect x="631.07" y="212.70" width="1" height="10.30" fill="#f22a3c"/>
<rect x="630.22" y="216.50" width="2.7" height="4.60" fill="#f22a3c"/>
<rect x="634.41" y="210.70" width="1" height="12.30" fill="#008a6d"/>
<rect x="633.56" y="213.30" width="2.7" height="7.10" fill="#008a6d"/>
<rect x="637.76" y="206.80" width="1" height="14.90" fill="#f22a3c"/>
<rect x="636.91" y="214.00" width="2.7" height="5.10" fill="#f22a3c"/>
<rect x="641.10" y="213.30" width="1" height="9.70" fill="#f22a3c"/>
<rect x="640.25" y="218.50" width="2.7" height="1.90" fill="#f22a3c"/>
<rect x="644.45" y="219.80" width="1" height="19.70" fill="#f22a3c"/>
<rect x="643.60" y="220.10" width="2.7" height="19.40" fill="#f22a3c"/>
<rect x="647.79" y="224.00" width="1" height="15.50" fill="#008a6d"/>
<rect x="646.94" y="231.70" width="2.7" height="7.80" fill="#008a6d"/>
<rect x="651.14" y="227.20" width="1" height="17.40" fill="#008a6d"/>
<rect x="650.29" y="230.40" width="2.7" height="1.30" fill="#008a6d"/>
<rect x="654.48" y="225.20" width="1" height="17.50" fill="#f22a3c"/>
<rect x="653.63" y="230.40" width="2.7" height="2.60" fill="#f22a3c"/>
<rect x="657.83" y="212.30" width="1" height="22.60" fill="#008a6d"/>
<rect x="656.98" y="213.00" width="2.7" height="21.30" fill="#008a6d"/>
<rect x="661.17" y="211.70" width="1" height="7.70" fill="#f22a3c"/>
<rect x="660.32" y="213.00" width="2.7" height="5.80" fill="#f22a3c"/>
<rect x="664.52" y="213.00" width="1" height="9.70" fill="#008a6d"/>
<rect x="663.67" y="216.20" width="2.7" height="1.90" fill="#008a6d"/>
<rect x="667.86" y="194.20" width="1" height="22.60" fill="#008a6d"/>
<rect x="667.01" y="194.20" width="2.7" height="22.60" fill="#008a6d"/>
<rect x="671.21" y="183.90" width="1" height="16.80" fill="#f22a3c"/>
<rect x="670.36" y="194.20" width="2.7" height="4.60" fill="#f22a3c"/>
<rect x="674.55" y="192.90" width="1" height="8.40" fill="#008a6d"/>
<rect x="673.70" y="196.80" width="2.7" height="1.30" fill="#008a6d"/>
<rect x="677.90" y="185.20" width="1" height="12.90" fill="#008a6d"/>
<rect x="677.05" y="187.80" width="2.7" height="9.70" fill="#008a6d"/>
<rect x="681.24" y="163.20" width="1" height="27.80" fill="#008a6d"/>
<rect x="680.39" y="165.20" width="2.7" height="23.20" fill="#008a6d"/>
<rect x="684.59" y="160.00" width="1" height="11.60" fill="#f22a3c"/>
<rect x="683.74" y="165.20" width="2.7" height="1.90" fill="#f22a3c"/>
<rect x="687.94" y="121.50" width="1" height="47.10" fill="#008a6d"/>
<rect x="687.09" y="122.80" width="2.7" height="45.20" fill="#008a6d"/>
<rect x="691.28" y="101.50" width="1" height="34.80" fill="#008a6d"/>
<rect x="690.43" y="117.00" width="2.7" height="7.10" fill="#008a6d"/>
<rect x="694.63" y="101.50" width="1" height="32.30" fill="#008a6d"/>
<rect x="693.78" y="113.70" width="2.7" height="3.90" fill="#008a6d"/>
<rect x="697.97" y="108.60" width="1" height="32.30" fill="#f22a3c"/>
<rect x="697.12" y="113.70" width="2.7" height="27.20" fill="#f22a3c"/>
<rect x="701.32" y="135.70" width="1" height="20.00" fill="#f22a3c"/>
<rect x="700.47" y="139.60" width="2.7" height="15.50" fill="#f22a3c"/>
<rect x="704.66" y="144.10" width="1" height="11.60" fill="#008a6d"/>
<rect x="703.81" y="149.30" width="2.7" height="5.80" fill="#008a6d"/>
<rect x="708.01" y="116.30" width="1" height="33.60" fill="#008a6d"/>
<rect x="707.16" y="117.00" width="2.7" height="32.90" fill="#008a6d"/>
<rect x="711.35" y="107.90" width="1" height="22.00" fill="#008a6d"/>
<rect x="710.50" y="111.10" width="2.7" height="6.50" fill="#008a6d"/>
<rect x="714.70" y="106.00" width="1" height="15.50" fill="#f22a3c"/>
<rect x="713.85" y="111.10" width="2.7" height="2.60" fill="#f22a3c"/>
<rect x="718.04" y="111.10" width="1" height="23.30" fill="#f22a3c"/>
<rect x="717.19" y="113.10" width="2.7" height="20.00" fill="#f22a3c"/>
<rect x="721.39" y="118.30" width="1" height="33.50" fill="#f22a3c"/>
<rect x="720.54" y="131.80" width="2.7" height="16.80" fill="#f22a3c"/>
<rect x="724.73" y="138.90" width="1" height="22.60" fill="#008a6d"/>
<rect x="723.88" y="139.60" width="2.7" height="9.00" fill="#008a6d"/>
<rect x="728.08" y="137.60" width="1" height="33.00" fill="#f22a3c"/>
<rect x="727.23" y="140.90" width="2.7" height="28.40" fill="#f22a3c"/>
<rect x="731.42" y="155.70" width="1" height="14.20" fill="#008a6d"/>
<rect x="730.57" y="157.00" width="2.7" height="12.30" fill="#008a6d"/>
<rect x="734.77" y="128.00" width="1" height="29.70" fill="#008a6d"/>
<rect x="733.92" y="128.00" width="2.7" height="29.70" fill="#008a6d"/>
<rect x="738.11" y="122.80" width="1" height="53.60" fill="#f22a3c"/>
<rect x="737.26" y="128.00" width="2.7" height="48.40" fill="#f22a3c"/>
<rect x="741.46" y="160.90" width="1" height="15.50" fill="#008a6d"/>
<rect x="740.61" y="162.20" width="2.7" height="14.20" fill="#008a6d"/>
<rect x="744.81" y="160.20" width="1" height="18.10" fill="#f22a3c"/>
<rect x="743.96" y="162.80" width="2.7" height="11.00" fill="#f22a3c"/>
<rect x="748.15" y="151.30" width="1" height="23.30" fill="#008a6d"/>
<rect x="747.30" y="163.00" width="2.7" height="11.00" fill="#008a6d"/>
<rect x="751.50" y="163.00" width="1" height="23.20" fill="#f22a3c"/>
<rect x="750.65" y="163.00" width="2.7" height="16.80" fill="#f22a3c"/>
<rect x="754.84" y="166.20" width="1" height="16.20" fill="#008a6d"/>
<rect x="753.99" y="166.80" width="2.7" height="13.00" fill="#008a6d"/>
<rect x="758.19" y="166.80" width="1" height="11.70" fill="#f22a3c"/>
<rect x="757.34" y="166.80" width="2.7" height="2.60" fill="#f22a3c"/>
<rect x="761.53" y="164.30" width="1" height="16.10" fill="#008a6d"/>
<rect x="760.68" y="168.10" width="2.7" height="1.30" fill="#008a6d"/>
<rect x="764.88" y="162.30" width="1" height="8.40" fill="#008a6d"/>
<rect x="764.03" y="163.60" width="2.7" height="3.20" fill="#008a6d"/>
<rect x="768.22" y="140.40" width="1" height="23.90" fill="#008a6d"/>
<rect x="767.37" y="140.40" width="2.7" height="23.90" fill="#008a6d"/>
<rect x="771.57" y="137.80" width="1" height="29.70" fill="#f22a3c"/>
<rect x="770.72" y="140.40" width="2.7" height="26.40" fill="#f22a3c"/>
<rect x="774.91" y="163.00" width="1" height="7.70" fill="#008a6d"/>
<rect x="774.06" y="166.20" width="2.7" height="1.00" fill="#008a6d"/>
<rect x="778.26" y="164.90" width="1" height="17.50" fill="#f22a3c"/>
<rect x="777.41" y="165.60" width="2.7" height="16.10" fill="#f22a3c"/>
<rect x="781.60" y="177.80" width="1" height="10.40" fill="#f22a3c"/>
<rect x="780.75" y="181.70" width="2.7" height="3.20" fill="#f22a3c"/>
<rect x="784.95" y="173.30" width="1" height="12.30" fill="#008a6d"/>
<rect x="784.10" y="179.80" width="2.7" height="5.10" fill="#008a6d"/>
<rect x="788.29" y="166.20" width="1" height="17.40" fill="#008a6d"/>
<rect x="787.44" y="175.90" width="2.7" height="4.50" fill="#008a6d"/>
<rect x="791.64" y="168.80" width="1" height="11.60" fill="#008a6d"/>
<rect x="790.79" y="168.80" width="2.7" height="7.10" fill="#008a6d"/>
<rect x="794.98" y="161.70" width="1" height="12.90" fill="#008a6d"/>
<rect x="794.13" y="168.10" width="2.7" height="1.30" fill="#008a6d"/>
<rect x="798.33" y="142.30" width="1" height="25.80" fill="#008a6d"/>
<rect x="797.48" y="146.80" width="2.7" height="21.30" fill="#008a6d"/>
<rect x="801.68" y="144.20" width="1" height="8.40" fill="#f22a3c"/>
<rect x="800.83" y="146.80" width="2.7" height="2.00" fill="#f22a3c"/>
<rect x="805.02" y="124.90" width="1" height="27.70" fill="#008a6d"/>
<rect x="804.17" y="130.00" width="2.7" height="18.80" fill="#008a6d"/>
<rect x="808.37" y="126.80" width="1" height="20.70" fill="#f22a3c"/>
<rect x="807.52" y="130.00" width="2.7" height="11.00" fill="#f22a3c"/>
<rect x="811.71" y="131.60" width="1" height="13.90" fill="#008a6d"/>
<rect x="810.86" y="138.70" width="2.7" height="1.00" fill="#008a6d"/>
<rect x="815.06" y="131.60" width="1" height="10.90" fill="#008a6d"/>
<rect x="814.21" y="138.50" width="2.7" height="1.00" fill="#008a6d"/>
<rect x="818.40" y="118.00" width="1" height="21.30" fill="#008a6d"/>
<rect x="817.55" y="125.80" width="2.7" height="13.50" fill="#008a6d"/>
<rect x="821.75" y="125.10" width="1" height="22.60" fill="#f22a3c"/>
<rect x="820.90" y="125.80" width="2.7" height="14.80" fill="#f22a3c"/>
<rect x="825.09" y="132.90" width="1" height="12.20" fill="#f22a3c"/>
<rect x="824.24" y="140.60" width="2.7" height="1.90" fill="#f22a3c"/>
<rect x="828.44" y="126.40" width="1" height="19.40" fill="#008a6d"/>
<rect x="827.59" y="130.30" width="2.7" height="12.20" fill="#008a6d"/>
<rect x="831.78" y="125.80" width="1" height="29.70" fill="#f22a3c"/>
<rect x="830.93" y="130.30" width="2.7" height="20.00" fill="#f22a3c"/>
<rect x="835.13" y="143.80" width="1" height="18.80" fill="#f22a3c"/>
<rect x="834.28" y="150.30" width="2.7" height="11.60" fill="#f22a3c"/>
<rect x="838.47" y="160.60" width="1" height="21.40" fill="#f22a3c"/>
<rect x="837.62" y="160.60" width="2.7" height="14.20" fill="#f22a3c"/>
<rect x="841.82" y="169.70" width="1" height="14.80" fill="#f22a3c"/>
<rect x="840.97" y="174.80" width="2.7" height="2.60" fill="#f22a3c"/>
<rect x="845.16" y="172.30" width="1" height="14.20" fill="#008a6d"/>
<rect x="844.31" y="172.60" width="2.7" height="4.80" fill="#008a6d"/>
<rect x="848.51" y="169.70" width="1" height="12.30" fill="#f22a3c"/>
<rect x="847.66" y="174.20" width="2.7" height="7.10" fill="#f22a3c"/>
<rect x="851.85" y="181.30" width="1" height="31.70" fill="#f22a3c"/>
<rect x="851.00" y="181.30" width="2.7" height="23.30" fill="#f22a3c"/>
<rect x="855.20" y="200.00" width="1" height="9.70" fill="#008a6d"/>
<rect x="854.35" y="202.60" width="2.7" height="2.00" fill="#008a6d"/>
<rect x="858.55" y="197.50" width="1" height="18.10" fill="#f22a3c"/>
<rect x="857.70" y="202.60" width="2.7" height="2.00" fill="#f22a3c"/>
<rect x="861.89" y="192.30" width="1" height="17.40" fill="#008a6d"/>
<rect x="861.04" y="192.30" width="2.7" height="12.30" fill="#008a6d"/>
<rect x="865.24" y="178.70" width="1" height="16.80" fill="#008a6d"/>
<rect x="864.39" y="178.70" width="2.7" height="13.60" fill="#008a6d"/>
<rect x="868.58" y="176.10" width="1" height="19.40" fill="#f22a3c"/>
<rect x="867.73" y="178.70" width="2.7" height="11.00" fill="#f22a3c"/>
<rect x="871.93" y="174.20" width="1" height="27.80" fill="#008a6d"/>
<rect x="871.08" y="189.00" width="2.7" height="1.00" fill="#008a6d"/>
<rect x="875.27" y="186.50" width="1" height="47.80" fill="#f22a3c"/>
<rect x="874.42" y="189.00" width="2.7" height="28.50" fill="#f22a3c"/>
<rect x="878.62" y="211.00" width="1" height="20.70" fill="#f22a3c"/>
<rect x="877.77" y="217.50" width="2.7" height="6.50" fill="#f22a3c"/>
<rect x="881.96" y="216.80" width="1" height="15.60" fill="#f22a3c"/>
<rect x="881.11" y="223.30" width="2.7" height="9.10" fill="#f22a3c"/>
<rect x="885.31" y="209.70" width="1" height="25.20" fill="#008a6d"/>
<rect x="884.46" y="211.70" width="2.7" height="20.70" fill="#008a6d"/>
<rect x="888.65" y="205.90" width="1" height="10.90" fill="#f22a3c"/>
<rect x="887.80" y="211.70" width="2.7" height="1.90" fill="#f22a3c"/>
<rect x="892.00" y="200.70" width="1" height="16.80" fill="#008a6d"/>
<rect x="891.15" y="201.30" width="2.7" height="12.30" fill="#008a6d"/>
<rect x="895.34" y="200.00" width="1" height="13.00" fill="#f22a3c"/>
<rect x="894.49" y="202.00" width="2.7" height="2.60" fill="#f22a3c"/>
<rect x="898.69" y="200.00" width="1" height="18.10" fill="#f22a3c"/>
<rect x="897.84" y="203.90" width="2.7" height="7.10" fill="#f22a3c"/>
<rect x="902.03" y="189.70" width="1" height="22.60" fill="#008a6d"/>
<rect x="901.18" y="193.60" width="2.7" height="18.10" fill="#008a6d"/>
<rect x="905.38" y="178.00" width="1" height="22.60" fill="#008a6d"/>
<rect x="904.53" y="178.60" width="2.7" height="15.50" fill="#008a6d"/>
<rect x="908.72" y="168.90" width="1" height="15.50" fill="#008a6d"/>
<rect x="907.87" y="169.50" width="2.7" height="9.70" fill="#008a6d"/>
<rect x="912.07" y="157.30" width="1" height="17.40" fill="#f22a3c"/>
<rect x="911.22" y="168.90" width="2.7" height="5.80" fill="#f22a3c"/>
<rect x="915.42" y="163.10" width="1" height="11.60" fill="#008a6d"/>
<rect x="914.57" y="166.30" width="2.7" height="3.20" fill="#008a6d"/>
<rect x="918.76" y="164.40" width="1" height="19.40" fill="#f22a3c"/>
<rect x="917.91" y="165.70" width="2.7" height="14.20" fill="#f22a3c"/>
<rect x="922.11" y="159.20" width="1" height="20.70" fill="#008a6d"/>
<rect x="921.26" y="161.10" width="2.7" height="18.80" fill="#008a6d"/>
<rect x="925.45" y="152.80" width="1" height="11.60" fill="#008a6d"/>
<rect x="924.60" y="159.20" width="2.7" height="1.90" fill="#008a6d"/>
<rect x="928.80" y="154.70" width="1" height="8.40" fill="#008a6d"/>
<rect x="927.95" y="157.30" width="2.7" height="1.90" fill="#008a6d"/>
<rect x="932.14" y="154.70" width="1" height="22.00" fill="#f22a3c"/>
<rect x="931.29" y="156.00" width="2.7" height="20.70" fill="#f22a3c"/>
<rect x="935.49" y="163.70" width="1" height="13.00" fill="#008a6d"/>
<rect x="934.64" y="170.20" width="2.7" height="6.50" fill="#008a6d"/>
<rect x="938.83" y="165.70" width="1" height="19.40" fill="#f22a3c"/>
<rect x="937.98" y="170.20" width="2.7" height="12.30" fill="#f22a3c"/>
<rect x="942.18" y="179.90" width="1" height="14.20" fill="#f22a3c"/>
<rect x="941.33" y="181.80" width="2.7" height="8.40" fill="#f22a3c"/>
<rect x="945.52" y="189.00" width="1" height="18.70" fill="#f22a3c"/>
<rect x="944.67" y="189.60" width="2.7" height="10.30" fill="#f22a3c"/>
<rect x="948.87" y="193.50" width="1" height="12.20" fill="#008a6d"/>
<rect x="948.02" y="195.40" width="2.7" height="4.50" fill="#008a6d"/>
<rect x="952.21" y="175.40" width="1" height="21.30" fill="#008a6d"/>
<rect x="951.36" y="183.10" width="2.7" height="12.90" fill="#008a6d"/>
<rect x="955.56" y="176.70" width="1" height="31.00" fill="#f22a3c"/>
<rect x="954.71" y="183.10" width="2.7" height="20.00" fill="#f22a3c"/>
<rect x="958.90" y="193.00" width="1" height="14.50" fill="#008a6d"/>
<rect x="958.05" y="193.30" width="2.7" height="9.70" fill="#008a6d"/>
<rect x="962.25" y="188.80" width="1" height="11.60" fill="#008a6d"/>
<rect x="961.40" y="192.70" width="2.7" height="1.30" fill="#008a6d"/>
<rect x="965.60" y="182.30" width="1" height="17.50" fill="#008a6d"/>
<rect x="964.75" y="186.20" width="2.7" height="7.10" fill="#008a6d"/>
<rect x="968.94" y="159.70" width="1" height="29.70" fill="#008a6d"/>
<rect x="968.09" y="159.70" width="2.7" height="27.10" fill="#008a6d"/>
<rect x="972.29" y="136.50" width="1" height="24.50" fill="#008a6d"/>
<rect x="971.44" y="141.00" width="2.7" height="20.00" fill="#008a6d"/>
<rect x="975.63" y="132.60" width="1" height="11.00" fill="#008a6d"/>
<rect x="974.78" y="141.00" width="2.7" height="1.90" fill="#008a6d"/>
<rect x="978.98" y="135.20" width="1" height="10.30" fill="#f22a3c"/>
<rect x="978.13" y="141.00" width="2.7" height="1.30" fill="#f22a3c"/>
<rect x="982.32" y="130.00" width="1" height="33.60" fill="#f22a3c"/>
<rect x="981.47" y="142.30" width="2.7" height="13.50" fill="#f22a3c"/>
<rect x="985.67" y="128.30" width="1" height="30.30" fill="#008a6d"/>
<rect x="984.82" y="140.30" width="2.7" height="17.50" fill="#008a6d"/>
<rect x="989.01" y="125.70" width="1" height="15.50" fill="#008a6d"/>
<rect x="988.16" y="130.90" width="2.7" height="9.70" fill="#008a6d"/>
<rect x="992.36" y="130.20" width="1" height="18.80" fill="#f22a3c"/>
<rect x="991.51" y="130.90" width="2.7" height="11.60" fill="#f22a3c"/>
<rect x="995.70" y="107.60" width="1" height="34.90" fill="#008a6d"/>
<rect x="994.85" y="110.80" width="2.7" height="31.70" fill="#008a6d"/>
<rect x="999.05" y="107.60" width="1" height="14.90" fill="#f22a3c"/>
<rect x="998.20" y="110.80" width="2.7" height="6.50" fill="#f22a3c"/>
<rect x="1002.39" y="97.90" width="1" height="20.70" fill="#008a6d"/>
<rect x="1001.54" y="112.80" width="2.7" height="5.10" fill="#008a6d"/>
<rect x="1005.74" y="106.30" width="1" height="20.00" fill="#f22a3c"/>
<rect x="1004.89" y="112.80" width="2.7" height="8.40" fill="#f22a3c"/>
<rect x="1009.08" y="116.70" width="1" height="20.00" fill="#f22a3c"/>
<rect x="1008.23" y="121.20" width="2.7" height="11.00" fill="#f22a3c"/>
<rect x="1012.43" y="116.70" width="1" height="16.10" fill="#008a6d"/>
<rect x="1011.58" y="125.70" width="2.7" height="6.50" fill="#008a6d"/>
<rect x="1015.77" y="106.30" width="1" height="28.40" fill="#008a6d"/>
<rect x="1014.92" y="117.30" width="2.7" height="8.40" fill="#008a6d"/>
<rect x="1019.12" y="108.30" width="1" height="17.40" fill="#008a6d"/>
<rect x="1018.27" y="112.80" width="2.7" height="4.50" fill="#008a6d"/>
<rect x="1022.47" y="92.80" width="1" height="30.30" fill="#008a6d"/>
<rect x="1021.62" y="108.90" width="2.7" height="3.90" fill="#008a6d"/>
<rect x="1025.81" y="105.00" width="1" height="20.70" fill="#f22a3c"/>
<rect x="1024.96" y="108.90" width="2.7" height="11.60" fill="#f22a3c"/>
<rect x="1029.16" y="117.90" width="1" height="36.90" fill="#f22a3c"/>
<rect x="1028.31" y="119.90" width="2.7" height="22.60" fill="#f22a3c"/>
<rect x="1032.50" y="139.90" width="1" height="11.60" fill="#f22a3c"/>
<rect x="1031.65" y="141.80" width="2.7" height="3.90" fill="#f22a3c"/>
<rect x="1035.85" y="131.50" width="1" height="16.80" fill="#008a6d"/>
<rect x="1035.00" y="132.20" width="2.7" height="13.50" fill="#008a6d"/>
<rect x="1039.19" y="121.20" width="1" height="12.30" fill="#008a6d"/>
<rect x="1038.34" y="123.80" width="2.7" height="9.00" fill="#008a6d"/>
<rect x="1042.54" y="123.10" width="1" height="16.20" fill="#f22a3c"/>
<rect x="1041.69" y="123.10" width="2.7" height="8.40" fill="#f22a3c"/>
<rect x="1045.88" y="120.10" width="1" height="14.90" fill="#008a6d"/>
<rect x="1045.03" y="120.10" width="2.7" height="12.30" fill="#008a6d"/>
<rect x="1049.23" y="109.30" width="1" height="16.60" fill="#008a6d"/>
<rect x="1048.38" y="120.90" width="2.7" height="4.30" fill="#008a6d"/>
<rect x="1052.57" y="112.20" width="1" height="15.90" fill="#008a6d"/>
<rect x="1051.72" y="119.50" width="2.7" height="1.00" fill="#008a6d"/>
<rect x="1055.92" y="74.70" width="1" height="46.20" fill="#008a6d"/>
<rect x="1055.07" y="74.70" width="2.7" height="46.20" fill="#008a6d"/>
<rect x="1059.26" y="63.10" width="1" height="17.30" fill="#008a6d"/>
<rect x="1058.41" y="73.90" width="2.7" height="1.50" fill="#008a6d"/>
<rect x="1062.61" y="50.10" width="1" height="24.60" fill="#008a6d"/>
<rect x="1061.76" y="50.10" width="2.7" height="24.60" fill="#008a6d"/>
<rect x="1065.95" y="50.10" width="1" height="31.00" fill="#f22a3c"/>
<rect x="1065.10" y="50.10" width="2.7" height="26.00" fill="#f22a3c"/>
<rect x="1069.30" y="61.70" width="1" height="24.50" fill="#f22a3c"/>
<rect x="1068.45" y="76.10" width="2.7" height="1.00" fill="#f22a3c"/>
<rect x="1072.64" y="68.90" width="1" height="19.50" fill="#008a6d"/>
<rect x="1071.79" y="76.10" width="2.7" height="1.00" fill="#008a6d"/>
<rect x="1075.99" y="68.90" width="1" height="17.30" fill="#f22a3c"/>
<rect x="1075.14" y="76.10" width="2.7" height="1.00" fill="#f22a3c"/>
<rect x="1079.34" y="56.60" width="1" height="20.20" fill="#008a6d"/>
<rect x="1078.49" y="59.50" width="2.7" height="17.30" fill="#008a6d"/>
<rect x="1082.68" y="57.30" width="1" height="24.60" fill="#f22a3c"/>
<rect x="1081.83" y="59.50" width="2.7" height="15.20" fill="#f22a3c"/>
<rect x="1086.03" y="71.00" width="1" height="30.40" fill="#f22a3c"/>
<rect x="1085.18" y="73.90" width="2.7" height="26.00" fill="#f22a3c"/>
<rect x="1089.37" y="89.10" width="1" height="16.60" fill="#f22a3c"/>
<rect x="1088.52" y="99.20" width="2.7" height="5.80" fill="#f22a3c"/>
<rect x="1092.72" y="94.10" width="1" height="12.30" fill="#008a6d"/>
<rect x="1091.87" y="102.10" width="2.7" height="1.40" fill="#008a6d"/>
<rect x="1096.06" y="92.50" width="1" height="14.20" fill="#008a6d"/>
<rect x="1095.21" y="99.20" width="2.7" height="2.90" fill="#008a6d"/>
<rect x="1099.41" y="97.30" width="1" height="41.30" fill="#f22a3c"/>
<rect x="1098.56" y="97.90" width="2.7" height="33.60" fill="#f22a3c"/>
<rect x="1102.75" y="110.20" width="1" height="27.80" fill="#008a6d"/>
<rect x="1101.90" y="114.70" width="2.7" height="16.80" fill="#008a6d"/>
<rect x="1106.10" y="112.10" width="1" height="18.80" fill="#f22a3c"/>
<rect x="1105.25" y="114.10" width="2.7" height="16.80" fill="#f22a3c"/>
<rect x="1109.44" y="123.10" width="1" height="23.90" fill="#f22a3c"/>
<rect x="1108.59" y="128.30" width="2.7" height="14.20" fill="#f22a3c"/>
<rect x="1112.79" y="139.30" width="1" height="13.50" fill="#008a6d"/>
<rect x="1111.94" y="139.90" width="2.7" height="2.60" fill="#008a6d"/>
<rect x="1116.13" y="132.20" width="1" height="18.70" fill="#f22a3c"/>
<rect x="1115.28" y="139.30" width="2.7" height="11.60" fill="#f22a3c"/>
<rect x="1119.48" y="143.10" width="1" height="20.70" fill="#008a6d"/>
<rect x="1118.63" y="146.40" width="2.7" height="4.50" fill="#008a6d"/>
<rect x="1122.82" y="139.30" width="1" height="12.90" fill="#f22a3c"/>
<rect x="1121.97" y="145.70" width="2.7" height="6.50" fill="#f22a3c"/>
<rect x="1126.17" y="129.60" width="1" height="23.20" fill="#008a6d"/>
<rect x="1125.32" y="132.20" width="2.7" height="20.60" fill="#008a6d"/>
<rect x="1129.51" y="123.80" width="1" height="9.70" fill="#008a6d"/>
<rect x="1128.66" y="128.90" width="2.7" height="3.90" fill="#008a6d"/>
<rect x="1132.86" y="128.30" width="1" height="11.60" fill="#f22a3c"/>
<rect x="1132.01" y="128.90" width="2.7" height="10.40" fill="#f22a3c"/>
<rect x="1136.21" y="128.30" width="1" height="14.20" fill="#f22a3c"/>
<rect x="1135.36" y="138.00" width="2.7" height="2.60" fill="#f22a3c"/>
<rect x="1139.55" y="126.30" width="1" height="14.30" fill="#008a6d"/>
<rect x="1138.70" y="130.20" width="2.7" height="10.40" fill="#008a6d"/>
<rect x="1142.90" y="124.40" width="1" height="31.00" fill="#f22a3c"/>
<rect x="1142.05" y="127.60" width="2.7" height="23.30" fill="#f22a3c"/>
<rect x="1146.24" y="141.80" width="1" height="15.60" fill="#008a6d"/>
<rect x="1145.39" y="147.00" width="2.7" height="3.90" fill="#008a6d"/>
<rect x="1149.59" y="141.80" width="1" height="15.60" fill="#f22a3c"/>
<rect x="1148.74" y="147.00" width="2.7" height="6.50" fill="#f22a3c"/>
<rect x="1152.93" y="150.90" width="1" height="13.60" fill="#008a6d"/>
<rect x="1152.08" y="151.50" width="2.7" height="3.90" fill="#008a6d"/>
<rect x="1156.28" y="137.60" width="1" height="14.40" fill="#008a6d"/>
<rect x="1155.43" y="144.10" width="2.7" height="7.90" fill="#008a6d"/>
<rect x="1159.62" y="141.90" width="1" height="13.70" fill="#f22a3c"/>
<rect x="1158.77" y="144.10" width="2.7" height="1.40" fill="#f22a3c"/>
<rect x="1162.97" y="133.30" width="1" height="13.70" fill="#008a6d"/>
<rect x="1162.12" y="134.00" width="2.7" height="12.30" fill="#008a6d"/>
<rect x="1166.31" y="124.60" width="1" height="21.70" fill="#008a6d"/>
<rect x="1165.46" y="129.70" width="2.7" height="4.30" fill="#008a6d"/>
<rect x="1169.66" y="125.30" width="1" height="5.80" fill="#008a6d"/>
<rect x="1168.81" y="128.50" width="2.7" height="1.20" fill="#008a6d"/>
<rect x="1173.00" y="125.30" width="1" height="13.00" fill="#f22a3c"/>
<rect x="1172.15" y="128.20" width="2.7" height="7.90" fill="#f22a3c"/>
<rect x="1176.35" y="107.30" width="1" height="30.30" fill="#008a6d"/>
<rect x="1175.50" y="118.10" width="2.7" height="18.80" fill="#008a6d"/>
<rect x="1179.69" y="110.90" width="1" height="8.60" fill="#008a6d"/>
<rect x="1178.84" y="116.70" width="2.7" height="1.40" fill="#008a6d"/>
<rect x="1183.04" y="109.40" width="1" height="13.80" fill="#008a6d"/>
<rect x="1182.19" y="115.90" width="2.7" height="1.50" fill="#008a6d"/>
<rect x="1186.38" y="106.60" width="1" height="29.50" fill="#f22a3c"/>
<rect x="1185.53" y="115.90" width="2.7" height="20.20" fill="#f22a3c"/>
<rect x="1189.73" y="133.30" width="1" height="17.30" fill="#f22a3c"/>
<rect x="1188.88" y="136.10" width="2.7" height="10.20" fill="#f22a3c"/>
<rect x="1193.08" y="140.50" width="1" height="6.50" fill="#f22a3c"/>
<rect x="1192.23" y="145.50" width="2.7" height="1.00" fill="#f22a3c"/>
<rect x="1196.42" y="144.10" width="1" height="9.40" fill="#f22a3c"/>
<rect x="1195.57" y="145.50" width="2.7" height="1.50" fill="#f22a3c"/>
<rect x="1199.77" y="144.80" width="1" height="24.60" fill="#f22a3c"/>
<rect x="1198.92" y="145.50" width="2.7" height="23.90" fill="#f22a3c"/>
<rect x="1203.11" y="164.30" width="1" height="20.20" fill="#f22a3c"/>
<rect x="1202.26" y="169.40" width="2.7" height="7.90" fill="#f22a3c"/>
<rect x="1206.46" y="164.30" width="1" height="18.80" fill="#008a6d"/>
<rect x="1205.61" y="167.90" width="2.7" height="9.40" fill="#008a6d"/>
<rect x="1209.80" y="160.50" width="1" height="9.60" fill="#008a6d"/>
<rect x="1208.95" y="164.50" width="2.7" height="4.80" fill="#008a6d"/>
<rect x="1213.15" y="161.70" width="1" height="5.50" fill="#f22a3c"/>
<rect x="1212.30" y="164.80" width="2.7" height="2.00" fill="#f22a3c"/>
<rect x="1173" y="104" width="57" height="91" fill="none" stroke="#9316ad" stroke-width="2"/>
<text x="1267.6" y="190.4" font-size="31.6" fill="#2962ff" stroke="#2962ff" stroke-width="0.45" transform="translate(0,190.4) scale(1,1.06) translate(0,-190.4)">Breakdown</text>
<text x="1010" y="263.7" font-size="31.3" fill="#2962ff" stroke="#2962ff" stroke-width="0.45" transform="translate(0,263.7) scale(1,1.06) translate(0,-263.7)">Support</text>
</g>
<text transform="translate(21.80 34.60) scale(1.0 1.09)" font-size="13.3" fill="#131722">Silver US Dollars per Ounce Spot Prices, 1D</text>
<text transform="translate(0 34.6) scale(1 1.09)" font-size="13.3"><tspan x="293.3" fill="#131722">O</tspan><tspan fill="#f23645">29.65</tspan><tspan x="345" fill="#131722">H</tspan><tspan fill="#f23645">29.79</tspan><tspan x="396.7" fill="#131722">L</tspan><tspan fill="#f23645">29.54</tspan><tspan x="446" fill="#131722">C</tspan><tspan fill="#f23645">29.56</tspan><tspan x="496.3" fill="#f23645">−0.08 (−0.28%)</tspan></text>
<text transform="translate(21.80 53.70) scale(1.0 1.09)" font-size="13.3" fill="#131722">EMA (200, close, 0)</text>
<text transform="translate(147.80 53.70) scale(1.0 1.09)" font-size="13.3" fill="#c2185b">29.38</text>
<text transform="translate(21.80 417.60) scale(1.0 1.09)" font-size="13.3" fill="#131722">RSI (14)</text>
<text transform="translate(77.00 417.60) scale(1.0 1.09)" font-size="13.3" fill="#a052c8">38.88</text>
<text transform="translate(1474.00 381.95) scale(1.0 1.09)" font-size="13.3" fill="#131722">20.00</text>
<text transform="translate(1474.00 337.95) scale(1.0 1.09)" font-size="13.3" fill="#131722">22.00</text>
<text transform="translate(1474.00 293.95) scale(1.0 1.09)" font-size="13.3" fill="#131722">24.00</text>
<text transform="translate(1474.00 249.95) scale(1.0 1.09)" font-size="13.3" fill="#131722">26.00</text>
<text transform="translate(1474.00 205.95) scale(1.0 1.09)" font-size="13.3" fill="#131722">28.00</text>
<text transform="translate(1474.00 161.95) scale(1.0 1.09)" font-size="13.3" fill="#131722">30.00</text>
<text transform="translate(1474.00 117.95) scale(1.0 1.09)" font-size="13.3" fill="#131722">32.00</text>
<text transform="translate(1474.00 73.95) scale(1.0 1.09)" font-size="13.3" fill="#131722">34.00</text>
<text transform="translate(1474.00 29.95) scale(1.0 1.09)" font-size="13.3" fill="#131722">36.00</text>
<text transform="translate(1474.00 416.20) scale(1.0 1.09)" font-size="13.3" fill="#131722">80.00</text>
<text transform="translate(1474.00 473.03) scale(1.0 1.09)" font-size="13.3" fill="#131722">60.00</text>
<g clip-path="url(#c20)"><text transform="translate(1474.00 586.69) scale(1.0 1.09)" font-size="13.3" fill="#131722">20.00</text></g>
<path d="M1464.5,157.7 H1511.5 Q1514,157.7 1514,160.2 V174.3 Q1514,176.8 1511.5,176.8 H1464.5 Z" fill="#f23645"/>
<text transform="translate(1473.80 172.25) scale(1.0 1.09)" font-size="13.3" fill="#ffffff">29.56</text>
<path d="M1464.5,176.8 H1511.5 Q1514,176.8 1514,179.3 V193.2 Q1514,195.7 1511.5,195.7 H1464.5 Z" fill="#c2185b"/>
<text transform="translate(1473.80 191.25) scale(1.0 1.09)" font-size="13.3" fill="#ffffff">29.38</text>
<path d="M1464.5,225.2 H1511.5 Q1514,225.2 1514,227.7 V241.9 Q1514,244.4 1511.5,244.4 H1464.5 Z" fill="#2962ff"/>
<text transform="translate(1473.80 239.80) scale(1.0 1.09)" font-size="13.3" fill="#ffffff">26.51</text>
<path d="M1464.5,519 H1511.5 Q1514,519 1514,521.5 V535.3 Q1514,537.8 1511.5,537.8 H1464.5 Z" fill="#a052c8"/>
<text transform="translate(1473.80 533.40) scale(1.0 1.09)" font-size="13.3" fill="#ffffff">38.88</text>
<text transform="translate(72.60 606.90) scale(1.0 1.09)" font-size="13.3" fill="#131722" text-anchor="middle">Sep</text>
<text transform="translate(216.70 606.90) scale(1.0 1.09)" font-size="13.3" fill="#131722" text-anchor="middle">Nov</text>
<text transform="translate(360.50 606.90) scale(1.0 1.08)" font-size="13.9" fill="#131722" text-anchor="middle" font-weight="bold">2024</text>
<text transform="translate(507.70 606.90) scale(1.0 1.09)" font-size="13.3" fill="#131722" text-anchor="middle">Mar</text>
<text transform="translate(647.50 606.90) scale(1.0 1.09)" font-size="13.3" fill="#131722" text-anchor="middle">May</text>
<text transform="translate(791.70 606.90) scale(1.0 1.09)" font-size="13.3" fill="#131722" text-anchor="middle">Jul</text>
<text transform="translate(942.70 606.90) scale(1.0 1.09)" font-size="13.3" fill="#131722" text-anchor="middle">Sep</text>
<text transform="translate(1089.60 606.90) scale(1.0 1.09)" font-size="13.3" fill="#131722" text-anchor="middle">Nov</text>
<text transform="translate(1240.20 606.90) scale(1.0 1.08)" font-size="13.9" fill="#131722" text-anchor="middle" font-weight="bold">2025</text>
<text transform="translate(1343.30 606.90) scale(1.0 1.09)" font-size="13.3" fill="#131722" text-anchor="middle">Feb</text>
<text transform="translate(1437.50 606.90) scale(1.0 1.09)" font-size="13.3" fill="#131722" text-anchor="middle">Mar</text>
<g transform="translate(12,629.5) scale(0.635)" fill="#131722"><path d="M14 22H7V11H0V4h14v18zM28 22h-8l7.5-18h8L28 22z"/><circle cx="20" cy="8" r="4"/></g>
<text x="39" y="643" font-size="14.6" fill="#131722" transform="translate(0,643) scale(1,1.02) translate(0,-643)">TradingView</text>
</svg></body></html>
